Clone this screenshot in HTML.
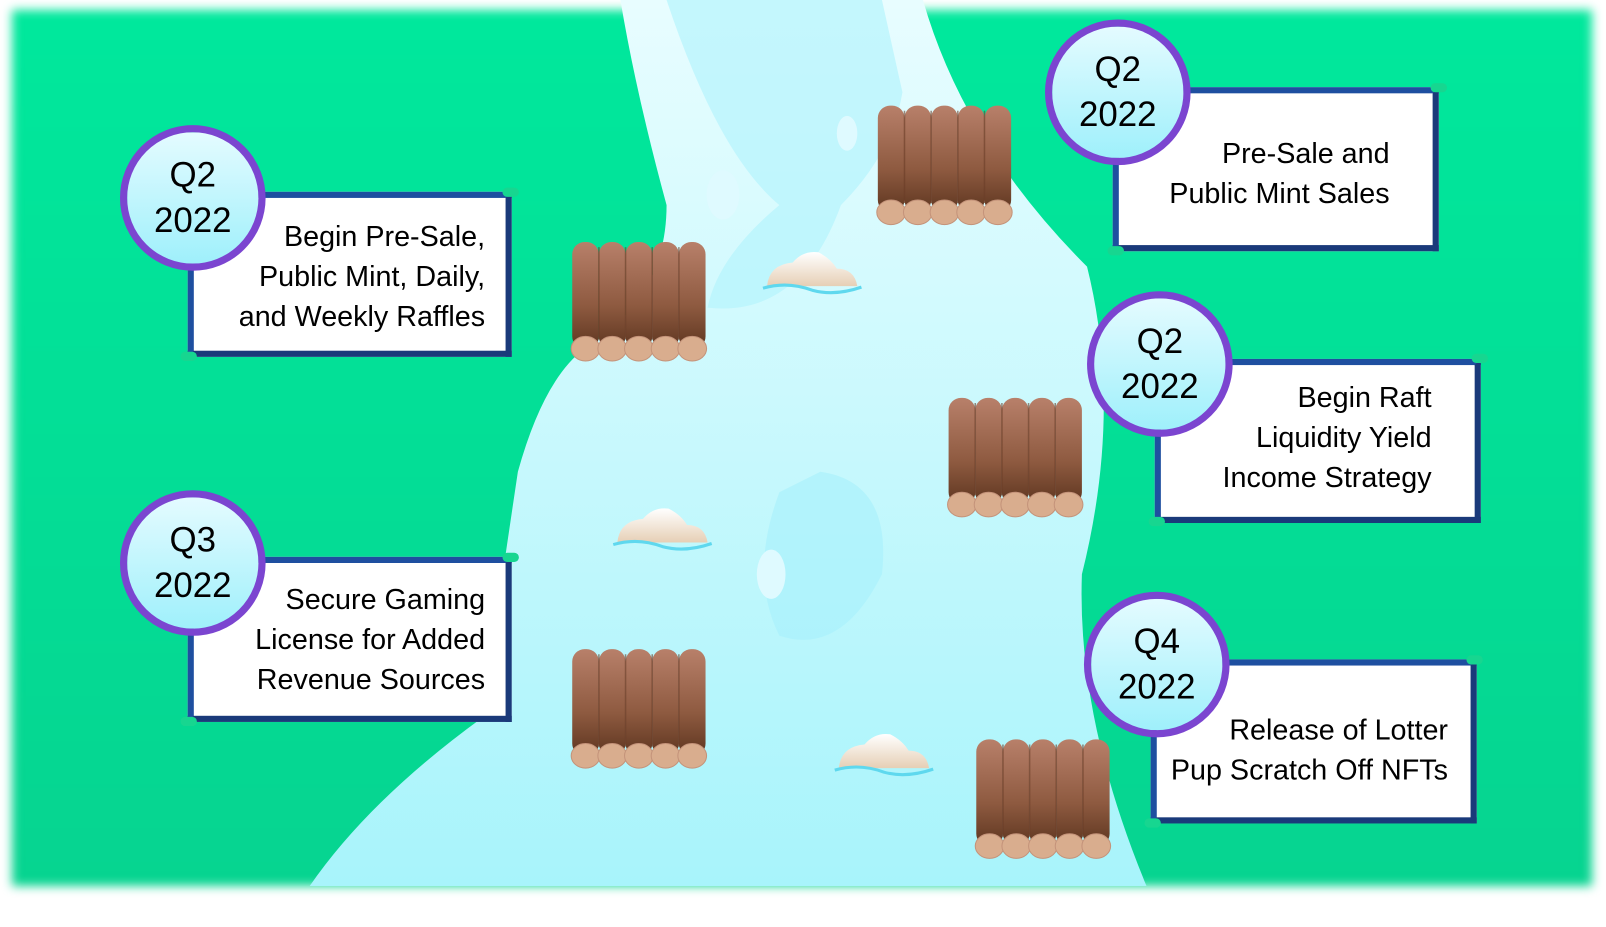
<!DOCTYPE html>
<html><head><meta charset="utf-8"><style>
body{margin:0;width:1606px;height:904px;background:#fff;overflow:hidden;position:relative;font-family:"Liberation Sans",sans-serif}
#bg{position:absolute;left:12px;top:10px;width:1580px;height:876px;background:linear-gradient(180deg,#00e89c,#06d490);filter:blur(5px)}
#wrap{position:absolute;left:0;top:0;width:1606px;height:904px;transform:scale(1.0255);transform-origin:0 0}
svg{position:absolute;left:0;top:0}
.box{position:absolute;background:#fff;border:6px solid #1e4fa0;border-right-color:#1a3a7a;border-bottom-color:#1a3a7a;box-sizing:border-box;text-align:right;font-size:28px;line-height:39px;color:#000;padding-right:20px;white-space:nowrap}
.circ{position:absolute;width:142px;height:142px;border-radius:50%;border:7px solid #7b45d0;box-sizing:border-box;background:linear-gradient(180deg,#e4fbff,#9ff0fb);text-align:center;font-size:34px;line-height:44px;padding-top:20px}
.dot{position:absolute;width:16px;height:9px;border-radius:5px;background:#17d690}
</style></head><body>
<div id="bg"></div>
<div id="wrap">
<svg width="1606" height="904" viewBox="0 0 1606 904">
<defs>
<linearGradient id="rv" x1="0" y1="0" x2="0" y2="1"><stop offset="0" stop-color="#e8fdff"/><stop offset="1" stop-color="#a8f4fb"/></linearGradient>
<linearGradient id="lg" x1="0" y1="0" x2="0" y2="1"><stop offset="0" stop-color="#b8806a"/><stop offset="0.6" stop-color="#8e5a40"/><stop offset="1" stop-color="#5e3620"/></linearGradient>
<linearGradient id="rk" x1="0" y1="0" x2="0" y2="1"><stop offset="0" stop-color="#fff"/><stop offset="1" stop-color="#e6cfb5"/></linearGradient>
<g id="log">
<rect x="0" y="0" width="26" height="104" rx="12" fill="url(#lg)"/>
<rect x="26" y="0" width="26" height="104" rx="12" fill="url(#lg)"/>
<rect x="52" y="0" width="26" height="104" rx="12" fill="url(#lg)"/>
<rect x="78" y="0" width="26" height="104" rx="12" fill="url(#lg)"/>
<rect x="104" y="0" width="26" height="104" rx="12" fill="url(#lg)"/>
<path d="M26 5V95M52 5V95M78 5V95M104 5V95" stroke="#6a3c26" stroke-width="1.5" opacity=".6"/>
<g fill="#d9ad8e" stroke="#c4937a" stroke-width="1">
<ellipse cx="13" cy="104" rx="14" ry="12"/><ellipse cx="39" cy="104" rx="14" ry="12"/><ellipse cx="65" cy="104" rx="14" ry="12"/><ellipse cx="91" cy="104" rx="14" ry="12"/><ellipse cx="117" cy="104" rx="14" ry="12"/></g>
</g>
<g id="rock"><path d="M0 35 Q2 14 25 12 Q35 0 50 2 Q62 8 68 18 Q85 18 88 35 Z" fill="url(#rk)"/><path d="M-4 37 Q20 30 44 39 Q66 45 92 36" stroke="#5fd8ee" stroke-width="3" fill="none"/></g>
</defs>
<path d="M605 0 L900 0 Q940 140 1060 260 Q1095 400 1055 560 Q1050 700 1118 864 L302 864 Q360 780 470 700 Q490 560 505 460 Q530 370 570 340 Q650 290 650 200 Q620 90 605 0Z" fill="url(#rv)"/>
<path d="M650 0 Q700 150 760 200 Q700 250 690 300 Q780 310 820 200 Q870 150 880 90 L860 0Z" fill="#b5f4fc" opacity=".7"/>
<path d="M760 480 Q730 560 760 620 Q820 640 860 560 Q870 470 800 460Z" fill="#a6f0fb" opacity=".6"/>
<ellipse cx="705" cy="190" rx="16" ry="24" fill="#dffaff"/>
<ellipse cx="826" cy="130" rx="10" ry="17" fill="#dffaff"/>
<ellipse cx="752" cy="560" rx="14" ry="24" fill="#dffaff"/>
<use href="#log" x="558" y="236"/>
<use href="#log" x="856" y="103"/>
<use href="#log" x="925" y="388"/>
<use href="#log" x="558" y="633"/>
<use href="#log" x="952" y="721"/>
<use href="#rock" x="748" y="244"/>
<use href="#rock" x="602" y="494"/>
<use href="#rock" x="818" y="714"/>
</svg>

<div class="box" style="left:183px;top:187px;width:316px;height:161px;padding-top:18px">Begin Pre-Sale,<br>Public Mint, Daily,<br>and Weekly Raffles</div>
<div class="dot" style="left:490px;top:183px"></div><div class="dot" style="left:176px;top:343px"></div>
<div class="circ" style="left:117px;top:122px">Q2<br>2022</div>

<div class="box" style="left:1085px;top:85px;width:318px;height:160px;padding-top:39px;padding-right:42px">Pre-Sale and<br>Public Mint Sales</div>
<div class="dot" style="left:1395px;top:81px"></div><div class="dot" style="left:1080px;top:240px"></div>
<div class="circ" style="left:1019px;top:19px">Q2<br>2022</div>

<div class="box" style="left:1126px;top:350px;width:318px;height:160px;padding-top:12px;padding-right:42px">Begin Raft<br>Liquidity Yield<br>Income Strategy</div>
<div class="dot" style="left:1435px;top:345px"></div><div class="dot" style="left:1120px;top:504px"></div>
<div class="circ" style="left:1060px;top:284px">Q2<br>2022</div>

<div class="box" style="left:183px;top:543px;width:316px;height:161px;padding-top:16px">Secure Gaming<br>License for Added<br>Revenue Sources</div>
<div class="dot" style="left:490px;top:539px"></div><div class="dot" style="left:176px;top:699px"></div>
<div class="circ" style="left:117px;top:478px">Q3<br>2022</div>

<div class="box" style="left:1122px;top:643px;width:318px;height:160px;padding-top:43px;padding-right:22px">Release of Lotter<br>Pup Scratch Off NFTs</div>
<div class="dot" style="left:1430px;top:639px"></div><div class="dot" style="left:1116px;top:798px"></div>
<div class="circ" style="left:1057px;top:577px">Q4<br>2022</div>
</div>
</body></html>
